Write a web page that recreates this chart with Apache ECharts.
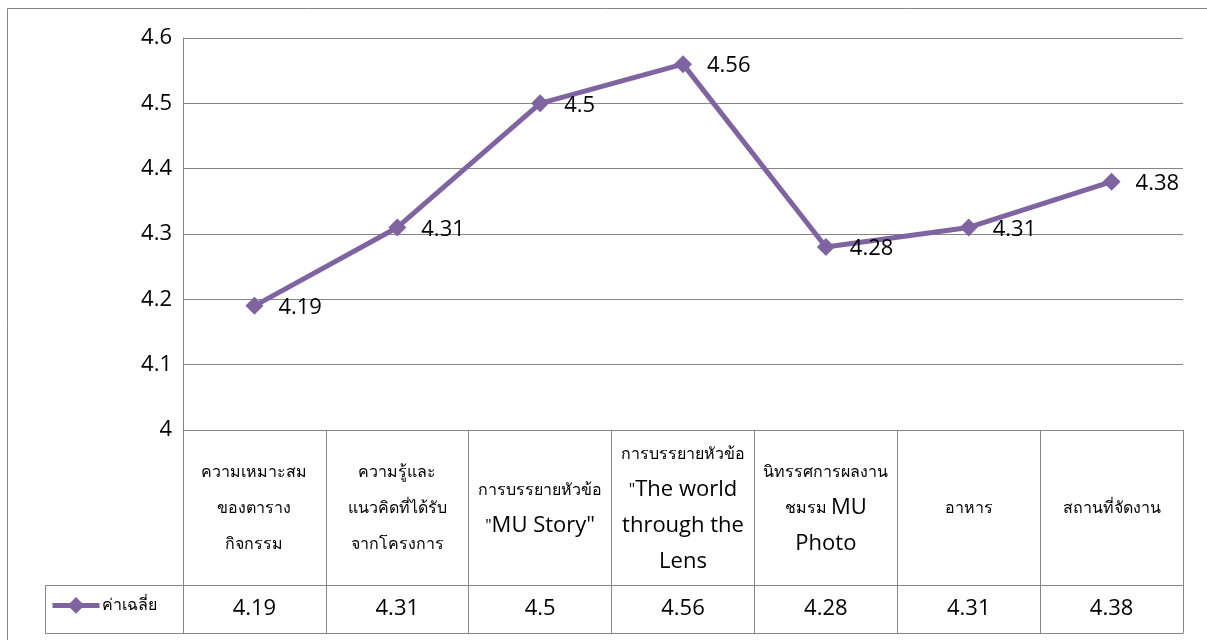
<!DOCTYPE html>
<html><head><meta charset="utf-8">
<script src="https://cdn.jsdelivr.net/npm/echarts@6/dist/echarts.min.js"></script>
<style>html,body{margin:0;padding:0;background:#fff}#c{width:1207px;height:640px}</style>
</head><body><div id="c"></div>
<script>
const categories = [
  'ความเหมาะสม\nของตาราง\nกิจกรรม',
  'ความรู้และ\nแนวคิดที่ได้รับ\nจากโครงการ',
  'การบรรยายหัวข้อ\n"MU Story"',
  'การบรรยายหัวข้อ\n"The world\nthrough the\nLens',
  'นิทรรศการผลงาน\nชมรม MU\nPhoto',
  'อาหาร',
  'สถานที่จัดงาน'
];
const values = [4.19, 4.31, 4.5, 4.56, 4.28, 4.31, 4.38];
const seriesName = 'ค่าเฉลี่ย';
const yMin = 4, yMax = 4.6, yStep = 0.1;

const GRAY = '#868686';
const PURPLE = '#8064A2';
const FONT = '"Open Sans", "Noto Sans", "DejaVu Sans", sans-serif';

function richCat(s) {
  return s.split('\n').map(line => line.replace(/([A-Za-z][A-Za-z" ]*)/g, '{en|$1}')).join('\n');
}

const chart = echarts.init(document.getElementById('c'));
chart.setOption({
  animation: false,
  backgroundColor: '#fff',
  grid: { left: 183, right: 24, top: 38, bottom: 210, containLabel: false },
  legend: {
    left: 50, top: 597, padding: 0,
    itemWidth: 47, itemHeight: 21, itemGap: 5,
    lineStyle: { width: 5 },
    textStyle: { fontSize: 16, color: '#000', fontFamily: FONT, padding: [4, 0, 0, -3] },
    data: [seriesName]
  },
  xAxis: [
    {
      type: 'category', data: categories, position: 'bottom', boundaryGap: true,
      axisLine: { show: true, lineStyle: { color: GRAY, width: 1 } },
      axisTick: { show: true, interval: 0, length: 203, lineStyle: { color: GRAY, width: 1 } },
      splitLine: { show: false },
      axisLabel: {
        interval: 0, margin: 78, verticalAlign: 'middle', align: 'center',
        fontSize: 16, lineHeight: 36, color: '#000', fontFamily: FONT,
        formatter: v => richCat(v),
        rich: { en: { fontSize: 22, lineHeight: 36, color: '#000', fontFamily: FONT } }
      }
    },
    {
      type: 'category', data: categories, position: 'bottom', offset: 155,
      axisLine: { show: true, lineStyle: { color: GRAY, width: 1 } },
      axisTick: { show: false },
      splitLine: { show: false },
      axisLabel: {
        interval: 0, margin: 24, verticalAlign: 'middle', align: 'center',
        fontSize: 22, color: '#000', fontFamily: FONT,
        formatter: (v, i) => String(values[i])
      }
    },
    {
      type: 'category', data: categories, position: 'bottom', offset: 203,
      axisLine: { show: true, lineStyle: { color: GRAY, width: 1 } },
      axisTick: { show: false }, axisLabel: { show: false }, splitLine: { show: false }
    }
  ],
  yAxis: {
    type: 'value', min: yMin, max: yMax, interval: yStep,
    axisLine: { show: true, lineStyle: { color: GRAY, width: 1 } },
    axisTick: { show: false },
    splitLine: { show: true, lineStyle: { color: GRAY, width: 1 } },
    axisLabel: {
      margin: 11, fontSize: 22, color: '#000', fontFamily: FONT,
      formatter: v => String(Math.round(v * 10) / 10)
    }
  },
  graphic: [
    { type: 'rect', shape: { x: 7.5, y: 8.5, width: 1400, height: 800 }, style: { fill: 'none', stroke: GRAY, lineWidth: 1 }, silent: true },
    { type: 'polyline', shape: { points: [[183, 585.5], [45.5, 585.5], [45.5, 633.5], [183, 633.5]] }, style: { fill: 'none', stroke: GRAY, lineWidth: 1 }, silent: true }
  ],
  series: [{
    name: seriesName, type: 'line', data: values, xAxisIndex: 0,
    symbol: 'diamond', symbolSize: 18,
    lineStyle: { color: PURPLE, width: 5 },
    itemStyle: { color: PURPLE },
    label: {
      show: true, position: 'right', distance: 15, offset: [0, 2],
      fontSize: 22, color: '#000', fontFamily: FONT
    }
  }]
});
</script></body></html>
